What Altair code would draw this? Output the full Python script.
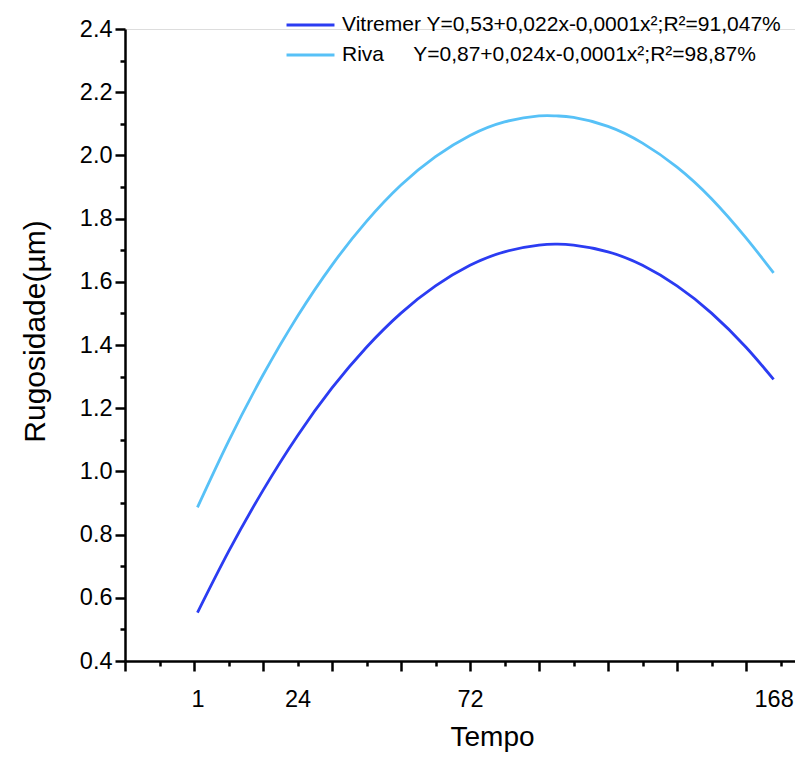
import altair as alt
import pandas as pd

# Tempo (h) at which the fitted curves were read
hours = [1, 10, 20, 30, 40, 50, 60, 70, 80, 90, 100, 105, 110, 120, 130, 140, 150, 160, 168]
vitremer = [0.553, 0.746, 0.940, 1.113, 1.264, 1.393, 1.501, 1.587, 1.652, 1.695, 1.716, 1.719,
            1.716, 1.695, 1.652, 1.587, 1.501, 1.393, 1.291]
riva = [0.886, 1.095, 1.305, 1.491, 1.653, 1.791, 1.906, 1.996, 2.063, 2.106, 2.125, 2.125,
        2.120, 2.092, 2.039, 1.963, 1.863, 1.739, 1.628]

NB = "\u00a0"
series_names = [
    "Vitremer Y=0,53+0,022x-0,0001x²;R²=91,047%",
    "Riva" + NB * 5 + "Y=0,87+0,024x-0,0001x²;R²=98,87%",
]
series_colors = ["#2B3CF2", "#57C1F7"]

# axis ticks (every 10 h, major every 20 h) and where the reference prints its labels
x_tick_values = [-20, -10, 0, 10, 20, 30, 40, 50, 60, 70, 80, 90, 100, 110, 120, 130, 140, 150, 160, 170]
x_label_pos = [1, 30.001, 80.001, 168]
x_label_text = ["1", "24", "72", "168"]
y_tick_values = [0.4, 0.5, 0.6, 0.7, 0.8, 0.9, 1.0, 1.1, 1.2, 1.3, 1.4, 1.5, 1.6, 1.7, 1.8,
                 1.9, 2.0, 2.1, 2.2, 2.3, 2.4]

rows = []
for name, vals in zip(series_names, [vitremer, riva]):
    for h, v in zip(hours, vals):
        rows.append({"Tempo": h, "Rugosidade": v, "Serie": name})
df = pd.DataFrame(rows)

label_expr = " : ".join(
    f"datum.value == {p} ? '{t}'" for p, t in zip(x_label_pos, x_label_text)
) + " : ''"
label_test = " || ".join(f"datum.value == {p}" for p in x_label_pos)

FONT = "Liberation Sans"

x_axis = alt.Axis(
    values=x_tick_values + x_label_pos,
    labelExpr=label_expr,
    labelOverlap=False,
    labelFontSize=23.5,
    labelFont=FONT,
    labelColor="black",
    labelPadding=21,
    tickSize={"condition": {"test": "datum.value % 20 == 0", "value": 10}, "value": 5},
    tickOpacity={"condition": {"test": label_test, "value": 0}, "value": 1},
    tickColor="black",
    tickWidth=2.5,
    domainColor="black",
    domainWidth=2.5,
    grid=False,
    title="Tempo",
    titleFont=FONT,
    titleFontSize=28,
    titleFontWeight="normal",
    titleColor="black",
    titleX=367,
    titleY=84.5,
    titleBaseline="alphabetic",
)

y_axis = alt.Axis(
    values=y_tick_values,
    labelExpr="round(datum.value * 10) % 2 == 0 ? format(datum.value, '.1f') : ''",
    labelOverlap=False,
    labelFontSize=23.5,
    labelFont=FONT,
    labelColor="black",
    labelPadding=3,
    tickSize={"condition": {"test": "round(datum.value * 10) % 2 == 0", "value": 10}, "value": 5},
    tickColor="black",
    tickWidth=2.5,
    domainColor="black",
    domainWidth=2.5,
    grid=False,
    title="Rugosidade(µm)",
    titleFont=FONT,
    titleFontSize=30,
    titleFontWeight="normal",
    titleColor="black",
    titleAngle=-90,
    titleX=-90,
    titleY=302,
    titleAlign="center",
    titleBaseline="middle",
)

chart = alt.Chart(df).mark_line(strokeWidth=2.8, interpolate="natural").encode(
    x=alt.X("Tempo:Q", scale=alt.Scale(domain=[-20, 174.2], nice=False, zero=False), axis=x_axis),
    y=alt.Y("Rugosidade:Q", scale=alt.Scale(domain=[0.4, 2.4], nice=False, zero=False), axis=y_axis),
    color=alt.Color(
        "Serie:N",
        scale=alt.Scale(domain=series_names, range=series_colors),
        legend=alt.Legend(
            title=None,
            orient="none",
            legendX=160,
            legendY=-16,
            symbolType="stroke",
            symbolSize=2300,
            symbolStrokeWidth=2.8,
            labelFont=FONT,
            labelFontSize=21,
            labelColor="black",
            labelLimit=0,
            labelOffset=6,
            clipHeight=24,
            rowPadding=6,
        ),
    ),
    detail="Serie:N",
).properties(
    width=670,
    height=632,
    autosize=alt.AutoSizeParams(type="none"),
    padding={"left": 117, "top": 21, "right": 0, "bottom": 91},
).configure_view(stroke=None).configure(background="white")

chart.save("out.html", embed_options={"renderer": "svg", "actions": False})
